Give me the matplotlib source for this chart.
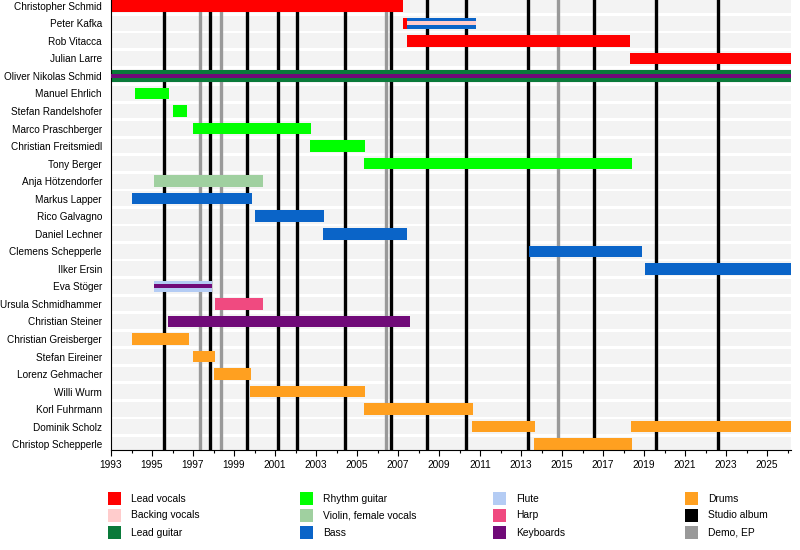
import matplotlib.pyplot as plt
from matplotlib.patches import Rectangle

plt.rcParams['font.family'] = ['Liberation Sans', 'DejaVu Sans']

START, END = 1993.0, 2026.17

members = [
    "Christopher Schmid", "Peter Kafka", "Rob Vitacca", "Julian Larre",
    "Oliver Nikolas Schmid", "Manuel Ehrlich", "Stefan Randelshofer",
    "Marco Praschberger", "Christian Freitsmiedl", "Tony Berger",
    "Anja Hötzendorfer", "Markus Lapper", "Rico Galvagno", "Daniel Lechner",
    "Clemens Schepperle", "Ilker Ersin", "Eva Stöger", "Ursula Schmidhammer",
    "Christian Steiner", "Christian Greisberger", "Stefan Eireiner",
    "Lorenz Gehmacher", "Willi Wurm", "Korl Fuhrmann", "Dominik Scholz",
    "Christop Schepperle",
]

roles = ["Lead vocals", "Backing vocals", "Lead guitar", "Rhythm guitar",
         "Violin, female vocals", "Bass", "Flute", "Harp", "Keyboards", "Drums"]
role_colors = ["#ff0000", "#ffcccc", "#0a7a3a", "#00ff00", "#a0d0a0",
               "#0a64c8", "#b4ccf4", "#f04a80", "#700a78", "#ffa020"]

# main bars: member, role, from, to
bar_member = ["Christopher Schmid", "Peter Kafka", "Peter Kafka", "Rob Vitacca",
              "Julian Larre", "Oliver Nikolas Schmid", "Manuel Ehrlich",
              "Stefan Randelshofer", "Marco Praschberger", "Christian Freitsmiedl",
              "Tony Berger", "Anja Hötzendorfer", "Markus Lapper", "Rico Galvagno",
              "Daniel Lechner", "Clemens Schepperle", "Ilker Ersin", "Eva Stöger",
              "Ursula Schmidhammer", "Christian Steiner", "Christian Greisberger",
              "Stefan Eireiner", "Lorenz Gehmacher", "Willi Wurm", "Korl Fuhrmann",
              "Dominik Scholz", "Dominik Scholz", "Christop Schepperle"]
bar_role = ["Lead vocals", "Lead vocals", "Bass", "Lead vocals",
            "Lead vocals", "Lead guitar", "Rhythm guitar",
            "Rhythm guitar", "Rhythm guitar", "Rhythm guitar",
            "Rhythm guitar", "Violin, female vocals", "Bass", "Bass",
            "Bass", "Bass", "Bass", "Flute",
            "Harp", "Keyboards", "Drums",
            "Drums", "Drums", "Drums", "Drums",
            "Drums", "Drums", "Drums"]
bar_start = [1993.0, 2007.25, 2007.42, 2007.45,
             2018.32, 1993.0, 1994.17,
             1996.02, 1997.0, 2002.72,
             2005.36, 1995.1, 1994.02, 2000.02,
             2003.34, 2013.39, 2019.05, 1995.1,
             1998.07, 1995.78, 1994.02,
             1997.0, 1998.02, 1999.78, 2005.34,
             2010.6, 2018.37, 2013.63]
bar_end = [2007.23, 2007.42, 2010.8, 2018.32,
           END, END, 1995.83,
           1996.7, 2002.74, 2005.37,
           2018.4, 2000.41, 1999.86, 2003.39,
           2007.44, 2018.9, END, 1997.93,
           2000.41, 2007.59, 1996.8,
           1998.07, 1999.83, 2005.39, 2010.64,
           2013.68, END, 2018.41]

# secondary roles drawn as thin bars inside the main bar
thin_member = ["Peter Kafka", "Oliver Nikolas Schmid", "Eva Stöger"]
thin_role = ["Backing vocals", "Keyboards", "Keyboards"]
thin_start = [2007.42, 1993.0, 1995.1]
thin_end = [2010.8, END, 1997.93]

studio_albums = [1995.6, 1997.85, 1999.62, 2001.16, 2002.07, 2004.43, 2006.64,
                 2008.43, 2010.3, 2013.35, 2016.58, 2019.57, 2022.63]
demos = [1997.36, 1998.37, 2006.4, 2014.82]

tick_years = list(range(1993, 2026, 2))

legend_labels = roles + ["Studio album", "Demo, EP"]
legend_colors = role_colors + ["#000000", "#999999"]

color_of = dict(zip(roles, role_colors))
row_of = {m: -i for i, m in enumerate(members)}

fig = plt.figure(figsize=(8, 5.5), dpi=100)
ax = fig.add_axes([111 / 800, 1 - 450 / 550, 680 / 800, 450 / 550])

# striped row background
for m in members:
    ax.barh(row_of[m], END - START, left=START, height=0.84, color="#f3f3f3",
            zorder=0)

for x in studio_albums:
    ax.axvline(x, color="black", lw=2.4, zorder=1)
for x in demos:
    ax.axvline(x, color="#999999", lw=2.4, zorder=1)

for m, r, s, e in zip(bar_member, bar_role, bar_start, bar_end):
    ax.barh(row_of[m], e - s, left=s, height=0.66, color=color_of[r], zorder=2)
for m, r, s, e in zip(thin_member, thin_role, thin_start, thin_end):
    ax.barh(row_of[m], e - s, left=s, height=0.24, color=color_of[r], zorder=3)

ax.set_xlim(START, END)
ax.set_ylim(-len(members) + 0.67, 0.33)
ax.set_yticks([row_of[m] for m in members])
ax.set_yticklabels(members, fontsize=7.2)
ax.set_xticks(tick_years)
ax.set_xticklabels([str(y) for y in tick_years], fontsize=7.3)
ax.set_xticks(range(1993, 2027), minor=True)
ax.tick_params(axis="y", length=0, pad=6.5)
ax.tick_params(axis="x", which="major", length=4, width=0.8, pad=3)
ax.tick_params(axis="x", which="minor", length=2.5, width=0.8)
ax.spines["top"].set_visible(False)
ax.spines["right"].set_visible(False)

# legend, 4 columns x 3 rows, laid out in pixels
col_x = [108, 300, 493, 685]
for i, (lab, c) in enumerate(zip(legend_labels, legend_colors)):
    col, row = divmod(i, 3)
    x0 = col_x[col]
    y0 = 492 + row * 17
    fig.add_artist(Rectangle((x0 / 800, 1 - (y0 + 13) / 550), 13 / 800, 13 / 550,
                             transform=fig.transFigure, color=c, lw=0))
    fig.text((x0 + 23) / 800, 1 - (y0 + 6.5) / 550, lab, fontsize=7.4,
             va="center", ha="left")

fig.savefig("out.png", dpi=100)
